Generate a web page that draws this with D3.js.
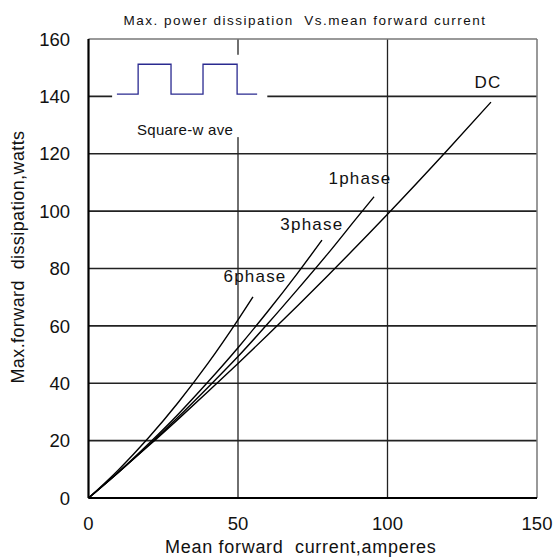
<!DOCTYPE html>
<html>
<head>
<meta charset="utf-8">
<script src="https://cdn.jsdelivr.net/npm/d3@7"></script>
<style>
  body { margin: 0; background: #fff; }
  text { font-family: "Liberation Sans", Arial, sans-serif; fill: #111; }
</style>
</head>
<body>
<div id="chart"></div>
<script>
// values
const current = {
  DC:     [0, 10, 20, 30, 40, 50, 60, 80, 100, 120, 134.6],
  phase1: [0, 10, 20, 30, 40, 50, 60, 70, 80, 90, 95.5],
  phase3: [0, 10, 20, 30, 40, 50, 60, 70, 78.1],
  phase6: [0, 10, 20, 30, 40, 50, 55]
};
const power = {
  DC:     [0, 9.0, 18.1, 27.5, 37.1, 46.9, 56.9, 77.5, 98.9, 121.2, 138],
  phase1: [0, 8.9, 18.3, 28.2, 38.6, 49.3, 60.8, 72.8, 85.1, 98, 105],
  phase3: [0, 9.0, 18.8, 29.2, 40.5, 52.4, 65.1, 78.5, 89.9],
  phase6: [0, 9.8, 20.9, 33.3, 47.0, 62.1, 70.1]
};
const curveNames = ["DC", "phase1", "phase3", "phase6"];
const curveLabels = ["DC", "1phase", "3phase", "6phase"];
const labelAt = [[133.6, 142.9], [90.8, 109.4], [74.7, 93.4], [55.7, 75.3]];

const xTicks = [0, 50, 100, 150];
const yTicks = [0, 20, 40, 60, 80, 100, 120, 140, 160];

// square-wave inset (in data units)
const waveX = [9.5, 16.6, 16.6, 27.6, 27.6, 38.3, 38.3, 49.7, 49.7, 56.4];
const waveY = [140.8, 140.8, 151.2, 151.2, 140.8, 140.8, 151.2, 151.2, 140.8, 140.8];

const width = 553, height = 558;
const margin = {left: 88.5, right: 16, top: 39, bottom: 60};

const svg = d3.select("#chart").append("svg")
    .attr("width", width)
    .attr("height", height);

const x = d3.scaleLinear().domain([0, 150]).range([margin.left, width - margin.right]);
const y = d3.scaleLinear().domain([0, 160]).range([height - margin.bottom, margin.top]);

// gridlines
svg.append("g").selectAll("line.h")
  .data(yTicks.filter(d => d > 0 && d < 160))
  .join("line")
    .attr("x1", x(0)).attr("x2", x(150))
    .attr("y1", d => y(d)).attr("y2", d => y(d))
    .attr("stroke", "#222").attr("stroke-width", 1.6);

svg.append("g").selectAll("line.v")
  .data(xTicks.filter(d => d > 0 && d < 150))
  .join("line")
    .attr("x1", d => x(d)).attr("x2", d => x(d))
    .attr("y1", y(0)).attr("y2", y(160))
    .attr("stroke", "#222").attr("stroke-width", 1.3);

// white patch behind the inset
svg.append("rect")
    .attr("x", x(7.9)).attr("y", y(154.5))
    .attr("width", x(59.8) - x(7.9))
    .attr("height", y(125.8) - y(154.5))
    .attr("fill", "#fff");

// frame
svg.append("line").attr("x1", x(0)).attr("x2", x(150)).attr("y1", y(160)).attr("y2", y(160))
    .attr("stroke", "#777").attr("stroke-width", 1.5);
svg.append("line").attr("x1", x(150)).attr("x2", x(150)).attr("y1", y(0)).attr("y2", y(160))
    .attr("stroke", "#777").attr("stroke-width", 1.5);
svg.append("line").attr("x1", x(0)).attr("x2", x(150)).attr("y1", y(0)).attr("y2", y(0))
    .attr("stroke", "#000").attr("stroke-width", 2.2);
svg.append("line").attr("x1", x(0)).attr("x2", x(0)).attr("y1", y(0)).attr("y2", y(160))
    .attr("stroke", "#000").attr("stroke-width", 2.2);

// square wave
const wave = d3.line().x(d => x(d[0])).y(d => y(d[1]));
svg.append("path")
    .attr("d", wave(d3.zip(waveX, waveY)))
    .attr("fill", "none")
    .attr("stroke", "#2a2a90")
    .attr("stroke-width", 1.3);
svg.append("text")
    .attr("x", x(32.3)).attr("y", y(126.5))
    .attr("text-anchor", "middle")
    .style("font-size", "15px")
    .style("letter-spacing", "0.3px")
    .style("white-space", "pre")
    .text("Square-w ave");

// curves
const line = d3.line()
    .x(d => x(d[0])).y(d => y(d[1]))
    .curve(d3.curveMonotoneX);

curveNames.forEach((name, i) => {
  svg.append("path")
      .attr("d", line(d3.zip(current[name], power[name])))
      .attr("fill", "none")
      .attr("stroke", "#000")
      .attr("stroke-width", 1.4);
  svg.append("text")
      .attr("x", x(labelAt[i][0])).attr("y", y(labelAt[i][1]))
      .attr("text-anchor", "middle")
      .style("font-size", "17px")
      .style("letter-spacing", "1.2px")
      .text(curveLabels[i]);
});

// tick labels
svg.append("g").selectAll("text")
  .data(yTicks)
  .join("text")
    .attr("x", x(0) - 18.5)
    .attr("y", d => y(d))
    .attr("dy", "0.36em")
    .attr("text-anchor", "end")
    .style("font-size", "18.5px")
    .text(d => d);

svg.append("g").selectAll("text")
  .data(xTicks)
  .join("text")
    .attr("x", d => x(d))
    .attr("y", y(0) + 32)
    .attr("text-anchor", "middle")
    .style("font-size", "18.5px")
    .text(d => d);

// titles
svg.append("text")
    .attr("x", 305).attr("y", 25)
    .attr("text-anchor", "middle")
    .style("font-size", "13.5px")
    .style("letter-spacing", "1.5px")
    .style("white-space", "pre")
    .text("Max. power dissipation  Vs.mean forward current");

svg.append("text")
    .attr("x", x(71)).attr("y", 553)
    .attr("text-anchor", "middle")
    .style("font-size", "18px")
    .style("letter-spacing", "0.7px")
    .style("white-space", "pre")
    .text("Mean forward  current,amperes");

svg.append("text")
    .attr("transform", `translate(24,${y(84)}) rotate(-90)`)
    .attr("text-anchor", "middle")
    .style("font-size", "18px")
    .style("letter-spacing", "0.4px")
    .style("white-space", "pre")
    .text("Max.forward  dissipation,watts");
</script>
</body>
</html>
